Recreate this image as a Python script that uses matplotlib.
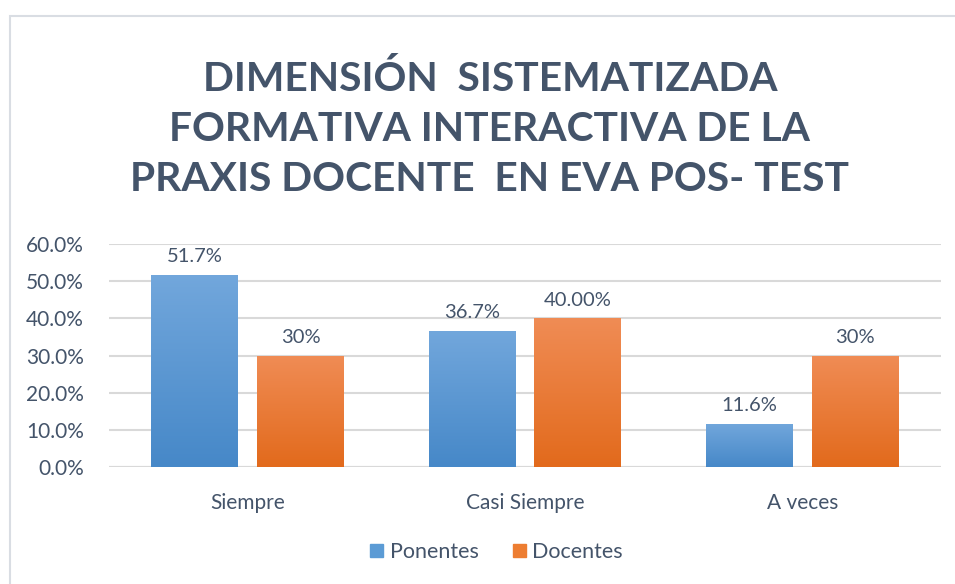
import numpy as np
import matplotlib
matplotlib.use("Agg")
from matplotlib import pyplot as plt
from matplotlib.patches import Rectangle
from matplotlib.colors import LinearSegmentedColormap

categories = ["Siempre", "Casi Siempre", "A veces"]
ponentes = [0.517, 0.367, 0.116]
docentes = [0.30, 0.40, 0.30]
ponentes_labels = ["51.7%", "36.7%", "11.6%"]
docentes_labels = ["30%", "40.00%", "30%"]
title = "DIMENSIÓN  SISTEMATIZADA\nFORMATIVA INTERACTIVA DE LA\nPRAXIS DOCENTE  EN EVA POS- TEST"

plt.rcParams['font.family'] = ['Lato', 'DejaVu Sans']
txt = '#44546a'

fig = plt.figure(figsize=(9.55, 5.84), dpi=100)
fig.patches.append(Rectangle((10/955, -0.1), 1.2, 1 - 16/584 + 0.1, transform=fig.transFigure,
                             fill=False, edgecolor='#d9dde3', linewidth=1.5))
ax = fig.add_axes([109/955, 1-467/584, 832/955, 223/584])

width = 0.313
off = width/2 + 0.034
x = np.arange(len(categories))

blue = LinearSegmentedColormap.from_list('b', ['#4688c8', '#72a7dc'])
orange = LinearSegmentedColormap.from_list('o', ['#e26a1c', '#f08c55'])
grad = np.linspace(0, 1, 256).reshape(-1, 1)

def gbar(xc, h, cmap):
    bar = ax.bar(xc, h, width, color='none', zorder=3)[0]
    im = ax.imshow(grad, cmap=cmap, origin='lower', aspect='auto',
                   extent=[xc - width/2, xc + width/2, 0, h], zorder=3)
    im.set_clip_path(bar)
    return bar

for i in range(len(categories)):
    gbar(x[i] - off, ponentes[i], blue)
    gbar(x[i] + off, docentes[i], orange)
    ax.text(x[i] - off, ponentes[i] + 0.026, ponentes_labels[i], ha='center', va='bottom',
            fontsize=14.5, color=txt)
    ax.text(x[i] + off, docentes[i] + 0.026, docentes_labels[i], ha='center', va='bottom',
            fontsize=14.5, color=txt)

ax.set_xlim(-0.5, 2.5)
ax.set_ylim(0, 0.6)
ax.set_yticks(np.arange(0, 0.61, 0.1))
ax.set_yticklabels(["%.1f%%" % (v*100) for v in np.arange(0, 0.61, 0.1)], fontsize=15, color=txt)
ax.set_xticks(x)
ax.set_xticklabels(categories, fontsize=15, color=txt)
ax.tick_params(axis='y', length=0, pad=18)
ax.tick_params(axis='x', length=0, pad=19)
ax.grid(axis='y', color='#d9d9d9', linewidth=1.5, zorder=0)
for s in ax.spines.values():
    s.set_visible(False)
ax.axhline(0, color='#d9d9d9', linewidth=1.5, zorder=2)

h1 = Rectangle((0, 0), 1, 1, color='#5b9bd5')
h2 = Rectangle((0, 0), 1, 1, color='#ed7d31')
fig.legend([h1, h2], ["Ponentes", "Docentes"], loc='center', bbox_to_anchor=(0.52, 1-552/584),
           ncol=2, frameon=False, fontsize=15.5, labelcolor=txt, handlelength=0.6, handleheight=0.6,
           handletextpad=0.3, columnspacing=1.6)

fig.text(0.513, 1-129/584, title, ha='center', va='center', fontsize=29.3, fontweight='bold',
         color=txt, linespacing=1.42)

fig.savefig("out.png", dpi=100)
